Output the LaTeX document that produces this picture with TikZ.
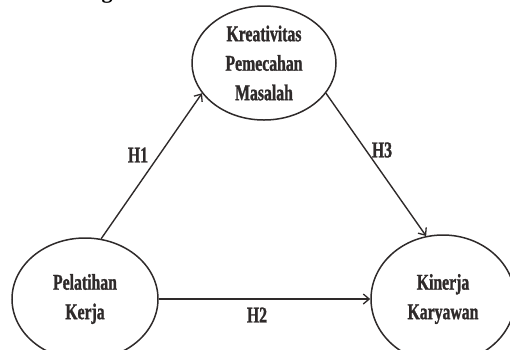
\documentclass[tikz,border=0pt]{standalone}
\usepackage{fontspec}
\setmainfont{Liberation Serif}
\newfontfamily\condfont[FakeStretch=0.7,FakeBold=1.2]{Liberation Serif}
\usetikzlibrary{shapes.geometric,arrows.meta}
\definecolor{ink}{HTML}{2E2A2A}
\tikzset{
  var/.style={draw=ink, line width=1.5pt, ellipse, inner sep=0pt, align=center,
    text=ink, font=\condfont\bfseries\fontsize{22.5}{29.5}\selectfont},
  link/.style={draw=ink, line width=1.4pt, -{Straight Barb[length=6pt,width=10pt,line width=1.3pt]}},
  hyp/.style={text=ink, font=\condfont\bfseries\fontsize{22.5}{26}\selectfont, inner sep=0pt}
}
\begin{document}
\begin{tikzpicture}[x=1pt,y=-1pt]
\useasboundingbox (0,0) rectangle (510,349);
\node[anchor=base, font=\bfseries\fontsize{22}{26}\selectfont] (head) at (107,-1.5) {g};
\node[var, minimum width=144pt, minimum height=114pt] (T) at (264,63) {Kreativitas\\Pemecahan\\Masalah};
\node[var, minimum width=146pt, minimum height=122pt] (L) at (85,299) {Pelatihan\\Kerja};
\node[var, minimum width=144pt, minimum height=128pt] (R) at (443,299) {Kinerja\\Karyawan};
\draw[link] (L.75) -- (T.206);
\draw[link] (T.-26) -- (R.105);
\draw[link] (L.east) -- (R.west);
\node[hyp] (h1) at (138,155) {H1};
\node[hyp] (h3) at (382,150) {H3};
\node[hyp] (h2) at (257,315) {H2};
\end{tikzpicture}
\end{document}
